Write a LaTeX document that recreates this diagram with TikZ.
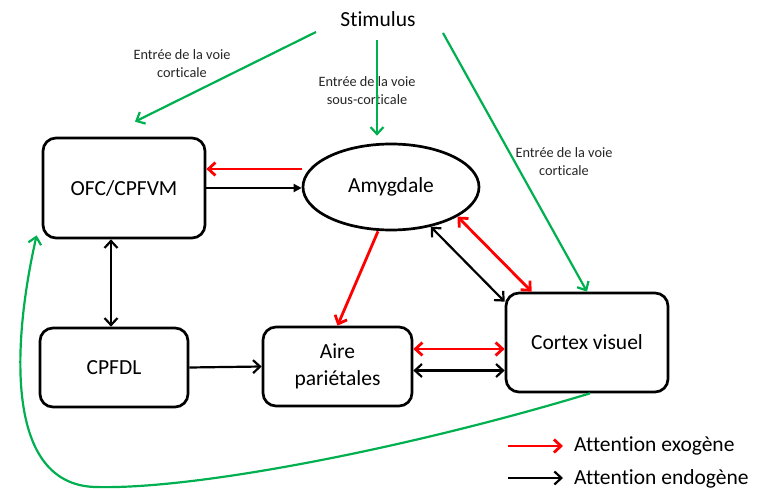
\documentclass[tikz,border=0pt]{standalone}
\usepackage{fontspec}
\setmainfont{Carlito}[Ligatures=NoCommon]
\usetikzlibrary{shapes.geometric,arrows.meta}
\definecolor{ogreen}{RGB}{0,176,80}
\definecolor{ored}{RGB}{255,0,0}
\tikzset{
  box/.style={draw=black,line width=2.7pt,rounded corners=13pt,inner sep=0pt,font=\fontsize{21.5}{27}\selectfont,align=center},
  lab/.style={font=\fontsize{14.3}{18}\selectfont,align=center,text=black!85,inner sep=0pt},
  arr/.style={line width=2.2pt,-{Straight Barb[length=7pt,width=13pt]}},
  darr/.style={line width=2.2pt,{Straight Barb[length=7pt,width=13pt]}-{Straight Barb[length=7pt,width=13pt]}},
  exo/.style={ored,line width=2.8pt},
  endo/.style={black},
  inp/.style={ogreen}
}
\begin{document}
\begin{tikzpicture}[x=1pt,y=-1pt]
\fill[white] (0,0) rectangle (757,489);
\useasboundingbox (0,0) rectangle (757,489);
% nodes
\node[font=\fontsize{21.5}{27}\selectfont,inner sep=0pt] (stim) at (378,19) {Stimulus};
\node[box,minimum width=162pt,minimum height=100pt] (ofc) at (124,188) {OFC/CPFVM};
\node[draw=black,line width=2.7pt,ellipse,minimum width=176pt,minimum height=86pt,inner sep=0pt,font=\fontsize{21.5}{27}\selectfont] (amy) at (391,187) {Amygdale};
\node[box,minimum width=148pt,minimum height=79pt] (cpfdl) at (114,367.5) {CPFDL};
\node[box,minimum width=149pt,minimum height=79pt] (aire) at (337.5,366.5) {Aire\\pariétales};
\node[box,minimum width=162pt,minimum height=99pt] (cortex) at (587,342.5) {Cortex visuel};
% labels
\node[lab] (lab1) at (182,64) {Entrée de la voie\\corticale};
\node[lab] (lab2) at (367,91) {Entrée de la voie\\sous-corticale};
\node[lab] (lab3) at (564,162) {Entrée de la voie\\corticale};
% green inputs
\draw[arr,inp] ([xshift=-62pt,yshift=-13pt]stim.center) -- ([xshift=11pt,yshift=15pt]ofc.north);
\draw[arr,inp] ([xshift=-1pt,yshift=-21pt]stim.center) -- ([xshift=-14pt,yshift=7pt]amy.north);
\draw[arr,inp] ([xshift=65pt,yshift=-14pt]stim.center) -- (cortex.north);
% OFC <-> Amygdale
\draw[arr,exo] ([yshift=18pt]amy.west) -- ([yshift=18pt]amy.west -| ofc.east);
\draw[endo,line width=2.2pt,-{Triangle[length=8pt,width=8pt]}] (ofc.east) -- (ofc.east -| amy.west);
% OFC <-> CPFDL
\draw[darr,endo] ([xshift=-13pt]ofc.south) -- ([xshift=-13pt]ofc.south |- cpfdl.north);
% Amygdale -> Aire
\draw[arr,exo] ([xshift=-13pt]amy.south) -- (aire.north);
% Amygdale <-> Cortex
\draw[darr,endo] (amy.-45) -- ([yshift=-10pt]cortex.north west);
\draw[darr,exo] (amy.-24) -- ([xshift=27pt]cortex.north west);
% Aire <-> Cortex
\draw[darr,exo] ([yshift=17.5pt]aire.east) -- ([yshift=17.5pt]aire.east -| cortex.west);
\draw[darr,endo] ([yshift=-4pt]aire.east) -- ([yshift=-4pt]aire.east -| cortex.west);
% CPFDL -> Aire
\draw[arr,endo] (cpfdl.east) -- (aire.west);
% feedback curve
\draw[arr,inp] ([xshift=3pt]cortex.south) .. controls (420,445) and (200,490) .. (95,487)
  .. controls (0,484) and (15,330) .. ([xshift=-5pt,yshift=4pt]ofc.south west);
% legend
\node[font=\fontsize{21.5}{27}\selectfont,inner sep=0pt,anchor=west] (leg1) at (574,446) {Attention exogène};
\node[font=\fontsize{21.5}{27}\selectfont,inner sep=0pt,anchor=west] (leg2) at (574,479) {Attention endogène};
\draw[arr,exo] ([xshift=-66pt]leg1.west) -- ([xshift=-11pt]leg1.west);
\draw[arr,endo] ([xshift=-66pt,yshift=1pt]leg2.west) -- ([xshift=-11pt,yshift=1pt]leg2.west);
\end{tikzpicture}
\end{document}
